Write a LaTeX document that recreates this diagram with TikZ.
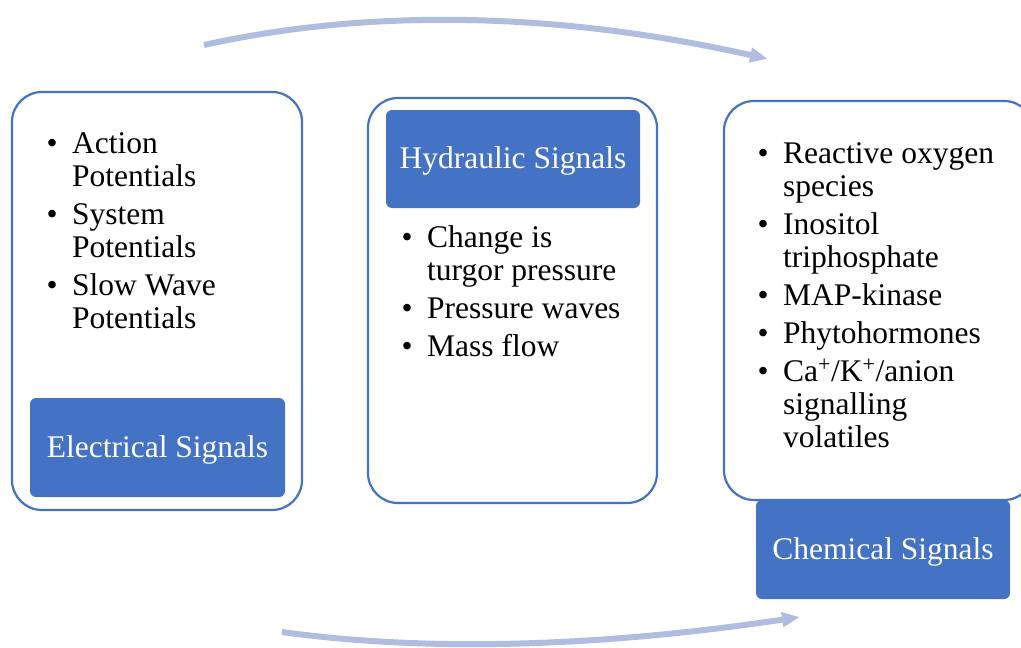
\documentclass[tikz,border=0pt]{standalone}
\usepackage{fontspec}
\setmainfont{Liberation Serif}
\usetikzlibrary{arrows.meta}
\definecolor{boxblue}{HTML}{4472C4}
\definecolor{arcblue}{RGB}{176,189,224}
\tikzset{
  outerbox/.style={draw=boxblue, line width=2.2pt, rounded corners=30pt, fill=white, inner sep=0pt},
  fillbox/.style={fill=boxblue, draw=none, rounded corners=6pt, text=white, inner sep=0pt,
    text height=19pt, text depth=0pt, font=\fontsize{31.5}{33}\selectfont},
  listnode/.style={anchor=base west, inner sep=0pt, align=left, font=\fontsize{31.5}{33}\selectfont},
  cyclearrow/.style={draw=arcblue, line width=6pt, -{Triangle[length=18pt,width=14pt]}}
}
\newcommand{\bul}{\makebox[25.5pt][l]{\textbullet}}
\begin{document}
\begin{tikzpicture}[x=1pt,y=-1pt]
\useasboundingbox (0,0) rectangle (1021,648);
\clip (0,0) rectangle (1021,648);
% outer boxes
\node[outerbox, minimum width=290pt, minimum height=418pt] (elec) at (157,301) {};
\node[outerbox, minimum width=289pt, minimum height=405pt] (hyd) at (512.5,300.5) {};
\node[outerbox, minimum width=310pt, minimum height=399pt] (chem) at (879,300.5) {};
% label boxes
\node[fillbox, minimum width=255pt, minimum height=99pt] (elecl) at (157.5,447.5) {Electrical Signals};
\node[fillbox, minimum width=254pt, minimum height=98pt] (hydl) at (513,159) {Hydraulic Signals};
\node[fillbox, minimum width=254pt, minimum height=99pt] (cheml) at (883,549.5) {Chemical Signals};
% lists
\node[listnode] (eleclist) at (46.5,153) {\begin{tabular}[t]{@{}l@{}l@{}}
\bul & Action\\ & Potentials\\[5pt]
\bul & System\\ & Potentials\\[5pt]
\bul & Slow Wave\\ & Potentials
\end{tabular}};
\node[listnode] (hydlist) at (401.5,247) {\begin{tabular}[t]{@{}l@{}l@{}}
\bul & Change is\\ & turgor pressure\\[5pt]
\bul & Pressure waves\\[5pt]
\bul & Mass flow
\end{tabular}};
\node[listnode] (chemlist) at (757.5,163) {\begin{tabular}[t]{@{}l@{}l@{}}
\bul & Reactive oxygen\\ & species\\[5pt]
\bul & Inositol\\ & triphosphate\\[5pt]
\bul & MAP-kinase\\[5pt]
\bul & Phytohormones\\[5pt]
\bul & Ca\textsuperscript{+}/K\textsuperscript{+}/anion\\ & signalling\\ & volatiles
\end{tabular}};
% cycle arrows
\coordinate (ts) at (204,45);
\coordinate (te) at (768,59);
\coordinate (bs) at (282,632);
\coordinate (be) at (800,617);
\draw[cyclearrow] (ts) .. controls (371,8) and (559,12) .. (te);
\draw[cyclearrow] (bs) .. controls (427,652) and (599,647) .. (be);
\end{tikzpicture}
\end{document}
